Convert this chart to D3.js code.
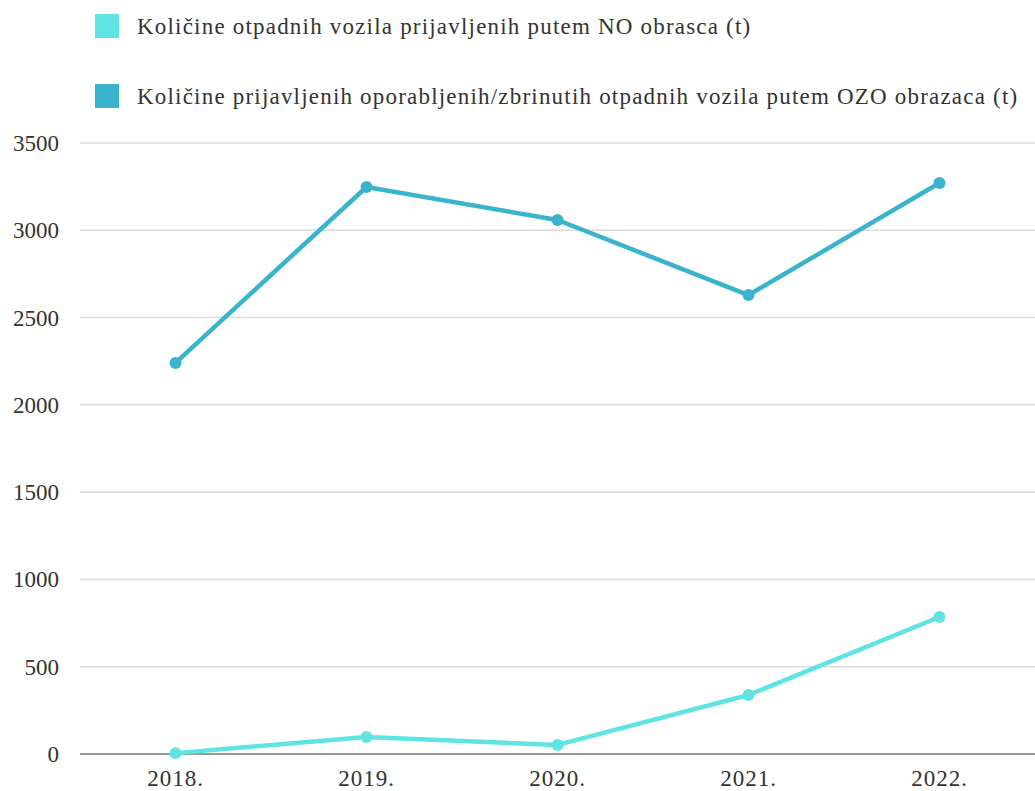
<!DOCTYPE html>
<html><head><meta charset="utf-8">
<script src="https://cdn.jsdelivr.net/npm/d3@7"></script>
<style>body{margin:0;background:#fff}svg{display:block} svg text{font-family:"Liberation Serif", serif;}</style>
</head><body><svg id="c" width="1035" height="791"></svg>
<script>
const categories = ["2018.", "2019.", "2020.", "2021.", "2022."];
const seriesNO = [5, 97, 52, 338, 785];
const seriesOZO = [2240, 3248, 3059, 2629, 3271];
const yTicks = [0, 500, 1000, 1500, 2000, 2500, 3000, 3500];
const seriesNames = ["Količine otpadnih vozila prijavljenih putem NO obrasca (t)",
  "Količine prijavljenih oporabljenih/zbrinutih otpadnih vozila putem OZO obrazaca (t)"];
const colors = ["#5fe3e3", "#3ab3cc"];
const FONT = "Liberation Serif";

const svg = d3.select("#c");
const x = d3.scalePoint().domain(categories).range([80, 1035]).padding(0.5);
const y = d3.scaleLinear().domain([0, 3500]).range([754, 143]);

svg.append("g").selectAll("line").data(yTicks.filter(d => d > 0)).join("line")
  .attr("x1", 80).attr("x2", 1035).attr("y1", d => y(d)).attr("y2", d => y(d))
  .attr("stroke", "#dcdcdc").attr("stroke-width", 1.5);
svg.append("line").attr("x1", 80).attr("x2", 1035).attr("y1", y(0)).attr("y2", y(0))
  .attr("stroke", "#999").attr("stroke-width", 2);

svg.append("g").selectAll("text").data(yTicks).join("text")
  .attr("x", 59).attr("y", d => y(d)).attr("dy", "0.35em").attr("text-anchor", "end")
  .style("font-family", FONT).style("font-size", "23px").attr("fill", "#333").text(d => d);
svg.append("g").selectAll("text").data(categories).join("text")
  .attr("x", d => x(d)).attr("y", 786).attr("text-anchor", "middle")
  .style("font-family", FONT).style("font-size", "23px").style("letter-spacing", "1px")
  .attr("fill", "#333").text(d => d);

const series = [seriesNO, seriesOZO];
const line = d3.line().x((d, i) => x(categories[i])).y(d => y(d));
series.forEach((s, k) => {
  svg.append("path").datum(s).attr("d", line).attr("fill", "none")
    .attr("stroke", colors[k]).attr("stroke-width", 4.5).attr("stroke-linejoin", "round");
  svg.append("g").selectAll("circle").data(s).join("circle")
    .attr("cx", (d, i) => x(categories[i])).attr("cy", d => y(d)).attr("r", 6)
    .attr("fill", colors[k]);
});

const lg = svg.append("g");
seriesNames.forEach((n, k) => {
  const yy = 26 + k * 70;
  lg.append("rect").attr("x", 95).attr("y", yy - 12).attr("width", 24).attr("height", 24).attr("fill", colors[k]);
  lg.append("text").attr("x", 137).attr("y", yy).attr("dy", "0.35em")
    .style("font-family", FONT).style("font-size", "23px").style("letter-spacing", "1.2px")
    .attr("fill", "#333").text(n);
});
</script></body></html>
